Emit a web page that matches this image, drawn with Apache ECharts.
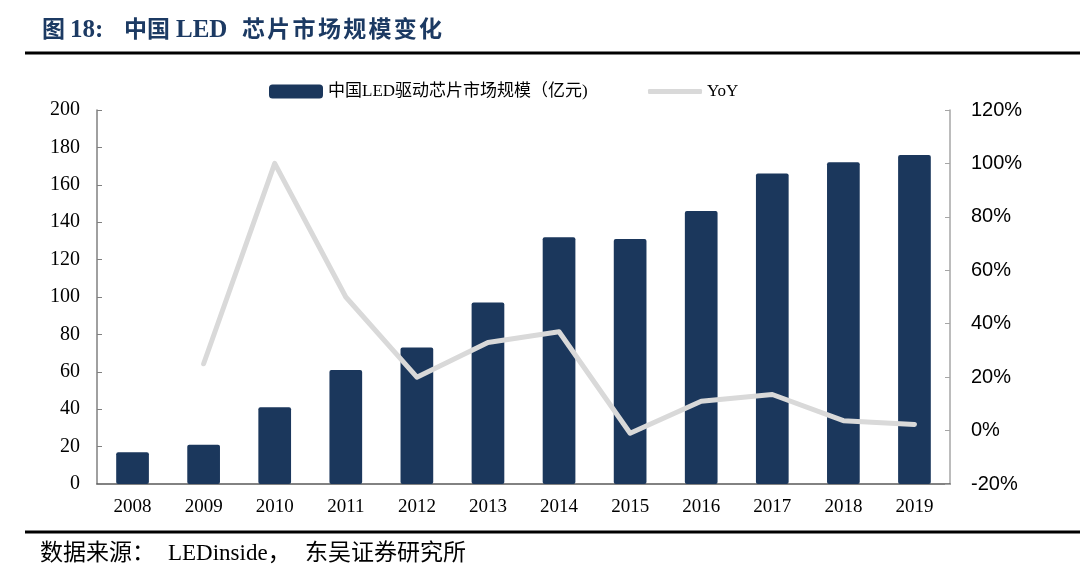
<!DOCTYPE html>
<html lang="zh">

<head>
  <meta charset="UTF-8">
  <title>中国LED芯片市场规模变化</title>
  <script src="https://cdn.jsdelivr.net/npm/echarts@6/dist/echarts.min.js"></script>
  <style>
    html, body { margin: 0; padding: 0; background: #fff; }
    #main { width: 1080px; height: 587px; }
  </style>
</head>

<body>
  <div id="main"></div>
</body>
<script>
  // 数据
  let years = ['2008', '2009', '2010', '2011', '2012', '2013', '2014', '2015', '2016', '2017', '2018', '2019'];
  let marketSize = [17, 21, 41, 61, 73, 97, 132, 131, 146, 166, 172, 176]; // 亿元
  let yoy = [null, 25, 100, 50, 20, 33, 37, -1, 11, 13.5, 3.7, 2.3]; // %
  let leftTicks = { min: 0, max: 200, interval: 20 };
  let rightTicks = { min: -20, max: 120, interval: 20 };
  let barName = '中国LED驱动芯片市场规模（亿元)';
  let lineName = 'YoY';

  let serif = '"Liberation Serif", "Noto Sans CJK SC", serif';
  let titleColor = '#1c3a63';
  let cjkFont = 'bold 23px ' + serif;
  let latinFont = 'bold 25px ' + serif;

  // 标题: 原图字距较宽, 分段摆放
  let titleParts = [
    { text: '图', x: 42, font: cjkFont },
    { text: '18:', x: 70, font: latinFont },
    { text: '中国', x: 124, font: cjkFont },
    { text: 'LED', x: 176, font: latinFont }
  ];
  let titleGraphic = titleParts.map(p => ({
    type: 'text', x: p.x, y: 31,
    style: { text: p.text, font: p.font, fill: titleColor, verticalAlign: 'middle' }
  }));
  '芯片市场规模变化'.split('').forEach((c, i) => {
    titleGraphic.push({
      type: 'text', x: 242 + i * 25.3, y: 31,
      style: { text: c, font: cjkFont, fill: titleColor, verticalAlign: 'middle' }
    });
  });

  let footFont = '23px ' + serif;
  let footParts = [
    { text: '数据来源：', x: 40 },
    { text: 'LEDinside，', x: 168 },
    { text: '东吴证券研究所', x: 305 }
  ];
  let footGraphic = footParts.map(p => ({
    type: 'text', x: p.x, y: 554,
    style: { text: p.text, font: footFont, fill: '#000', verticalAlign: 'middle' }
  }));

  let myCharts = echarts.init(document.getElementById('main'));
  let option = {
    animation: false,
    graphic: [
      ...titleGraphic,
      { type: 'rect', shape: { x: 25, y: 51.5, width: 1055, height: 3 }, style: { fill: '#000' } },
      { type: 'rect', shape: { x: 25, y: 530.5, width: 1055, height: 3 }, style: { fill: '#000' } },
      ...footGraphic
    ],
    legend: [
      {
        left: 269, top: 83, padding: 0,
        itemWidth: 54, itemHeight: 14,
        textStyle: { fontFamily: serif, fontSize: 17, color: '#000' },
        data: [{ name: barName, icon: 'roundRect' }]
      },
      {
        left: 648, top: 83, padding: 0,
        itemWidth: 54, itemHeight: 5,
        textStyle: { fontFamily: serif, fontSize: 17, color: '#000' },
        data: [{ name: lineName, icon: 'roundRect' }]
      }
    ],
    grid: { left: 97, right: 130, top: 110, bottom: 103 },
    xAxis: {
      type: 'category',
      data: years,
      axisLine: { lineStyle: { color: '#595959', width: 1.5 } },
      axisTick: { inside: true, length: 5, lineStyle: { color: '#595959' } },
      axisLabel: { fontFamily: serif, fontSize: 19, color: '#000', margin: 14 }
    },
    yAxis: [
      {
        type: 'value',
        min: leftTicks.min, max: leftTicks.max, interval: leftTicks.interval,
        axisLine: { show: true, lineStyle: { color: '#808080', width: 1.5 } },
        axisTick: { show: true, inside: true, length: 5, lineStyle: { color: '#808080' } },
        splitLine: { show: false },
        axisLabel: { fontFamily: serif, fontSize: 20, color: '#000', margin: 17 }
      },
      {
        type: 'value',
        min: rightTicks.min, max: rightTicks.max, interval: rightTicks.interval,
        axisLine: { show: true, lineStyle: { color: '#a6a6a6', width: 1.5 } },
        axisTick: { show: true, inside: true, length: 5, lineStyle: { color: '#a6a6a6' } },
        splitLine: { show: false },
        axisLabel: { fontFamily: '"Liberation Sans", Arial, sans-serif', fontSize: 20, color: '#000', margin: 21, formatter: '{value}%' }
      }
    ],
    series: [
      {
        name: barName,
        type: 'bar',
        data: marketSize,
        barWidth: '46%',
        itemStyle: { color: '#1b375c', borderRadius: 2 }
      },
      {
        name: lineName,
        type: 'line',
        yAxisIndex: 1,
        data: yoy,
        symbol: 'none',
        lineStyle: { color: '#d9d9d9', width: 5, cap: 'round', join: 'round' },
        itemStyle: { color: '#d9d9d9' }
      }
    ]
  };
  myCharts.setOption(option);
</script>

</html>
